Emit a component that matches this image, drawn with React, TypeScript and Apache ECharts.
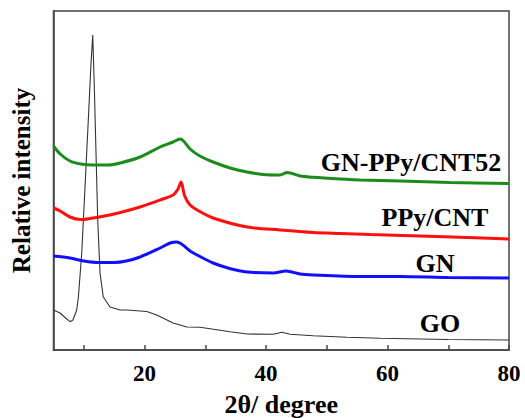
import React, { useEffect, useRef } from "react";
import * as echarts from "echarts";

// 2θ (degree) / relative intensity (arbitrary units)
const goData: number[][] = [
  [5, 40], [6.07, 37], [7, 32], [7.72, 28.3], [8.2, 30], [8.82, 40], [9.1, 53],
  [9.65, 97], [10.19, 163], [10.73, 230], [11.18, 287], [11.46, 315],
  [11.72, 263], [12.0, 197], [12.28, 130], [12.66, 77], [13.2, 53], [14.31, 43],
  [15.96, 40], [17.06, 40], [19.25, 39], [20.35, 38.5], [22.0, 35], [24.69, 27],
  [25.85, 25], [26.94, 23], [29.13, 22.7], [34.08, 18.3], [36.88, 16], [41.16, 15.7],
  [42.6, 17.7], [43.96, 15.7], [47.75, 14.3], [53.34, 12.7], [58.8, 11.7],
  [70, 10.5], [80, 10],
];
const gnData: number[][] = [
  [5, 94], [7.7, 92], [10, 89], [12.5, 87.5], [15, 87.5], [17, 89],
  [19.25, 93], [22.55, 102], [24.2, 107], [25.3, 108], [26.3, 105], [27.49, 99],
  [28.64, 95], [31.28, 87], [34, 81.5], [36.88, 78], [41.16, 77], [43.3, 79], [45.61, 76],
  [47.75, 75], [55.48, 73.5], [62, 73.5], [70, 72.5], [80, 72],
];
const ppyData: number[][] = [
  [5, 142], [6.1, 139], [7.7, 133], [9.4, 130.5], [11, 131.5], [13, 133.5],
  [16, 137.5], [19.25, 143], [22.55, 150], [24.69, 155], [25.5, 161],
  [26.0, 168], [26.6, 154], [27.49, 145], [28.64, 140], [31.28, 132], [36.88, 123],
  [42.31, 120], [47.75, 117.5], [52.2, 116.5], [57.13, 115.5], [68, 113.5], [80, 111],
];
const gnPpyData: number[][] = [
  [5, 204], [6.1, 196], [7.7, 189], [9.5, 186], [11.5, 185], [14, 185],
  [16, 187], [19.25, 193], [22.55, 203], [24.69, 208], [25.85, 211],
  [26.4, 209], [27.49, 201], [29.1, 194], [31.28, 188], [34.08, 182], [36.88, 178],
  [39.51, 175.5], [42.31, 175], [43.47, 177.5], [45.61, 174], [47.75, 172.7], [52.2, 171],
  [55.5, 170], [62.1, 169], [70.3, 167.5], [80, 166.5],
];
const xTickValues = [10, 20, 30, 40, 50, 60, 70, 80];
const xLabelValues = [20, 40, 60, 80];
const seriesNames = ["GO", "GN", "PPy/CNT", "GN-PPy/CNT52"];

const FONT = "'Times New Roman', 'Liberation Serif', 'DejaVu Serif', serif";

export default function App() {
  const ref = useRef<HTMLDivElement>(null);
  useEffect(() => {
    if (!ref.current) return;
    const chart = echarts.init(ref.current, undefined, { renderer: "svg" });
    const labelStyle = (text: string, x: number, y: number) => ({
      type: "text",
      x,
      y,
      style: {
        text,
        fontFamily: FONT,
        fontWeight: "bold",
        fontSize: 26,
        fill: "#000",
        align: "center",
        verticalAlign: "middle",
      },
    });
    chart.setOption({
      animation: false,
      backgroundColor: "#fff",
      textStyle: { fontFamily: FONT },
      grid: {
        left: 53.5,
        right: 16,
        top: 11,
        bottom: 68,
        containLabel: false,
        outerBoundsMode: "none",
        show: true,
        borderColor: "#444",
        borderWidth: 1.5,
      },
      xAxis: {
        type: "value",
        min: 5,
        max: 80,
        name: "2θ/ degree",
        nameLocation: "middle",
        nameGap: 41,
        nameTextStyle: { fontFamily: FONT, fontWeight: "bold", fontSize: 26, color: "#000" },
        axisLine: { show: true, lineStyle: { color: "#444", width: 1.5 } },
        axisTick: {
          show: true,
          inside: true,
          length: 5,
          customValues: xTickValues,
          lineStyle: { color: "#444", width: 1.5 },
        },
        axisLabel: {
          customValues: xLabelValues,
          fontFamily: FONT,
          fontWeight: "bold",
          fontSize: 23,
          color: "#000",
          margin: 12,
        },
        splitLine: { show: false },
      },
      yAxis: {
        type: "value",
        min: 0,
        max: 339,
        name: "Relative intensity",
        nameLocation: "middle",
        nameGap: 20,
        nameRotate: 90,
        nameTextStyle: { fontFamily: FONT, fontWeight: "bold", fontSize: 25, color: "#000" },
        axisLine: { show: true, lineStyle: { color: "#444", width: 1.5 } },
        axisTick: { show: false },
        axisLabel: { show: false },
        splitLine: { show: false },
      },
      series: [
        {
          name: seriesNames[0],
          type: "line",
          data: goData,
          showSymbol: false,
          smooth: false,
          lineStyle: { color: "#333", width: 1.1 },
        },
        {
          name: seriesNames[1],
          type: "line",
          data: gnData,
          showSymbol: false,
          smooth: 0.3,
          lineStyle: { color: "#1010ff", width: 3 },
        },
        {
          name: seriesNames[2],
          type: "line",
          data: ppyData,
          showSymbol: false,
          smooth: 0.3,
          lineStyle: { color: "#ff1010", width: 3 },
        },
        {
          name: seriesNames[3],
          type: "line",
          data: gnPpyData,
          showSymbol: false,
          smooth: 0.3,
          lineStyle: { color: "#1b8c1b", width: 3 },
        },
      ],
      graphic: [
        labelStyle(seriesNames[3], 411, 162),
        labelStyle(seriesNames[2], 435, 217.5),
        labelStyle(seriesNames[1], 435, 263),
        labelStyle(seriesNames[0], 440, 323),
      ],
    });
    return () => chart.dispose();
  }, []);
  return <div ref={ref} style={{ width: 525, height: 418, position: "absolute", left: 0, top: 0 }} />;
}
